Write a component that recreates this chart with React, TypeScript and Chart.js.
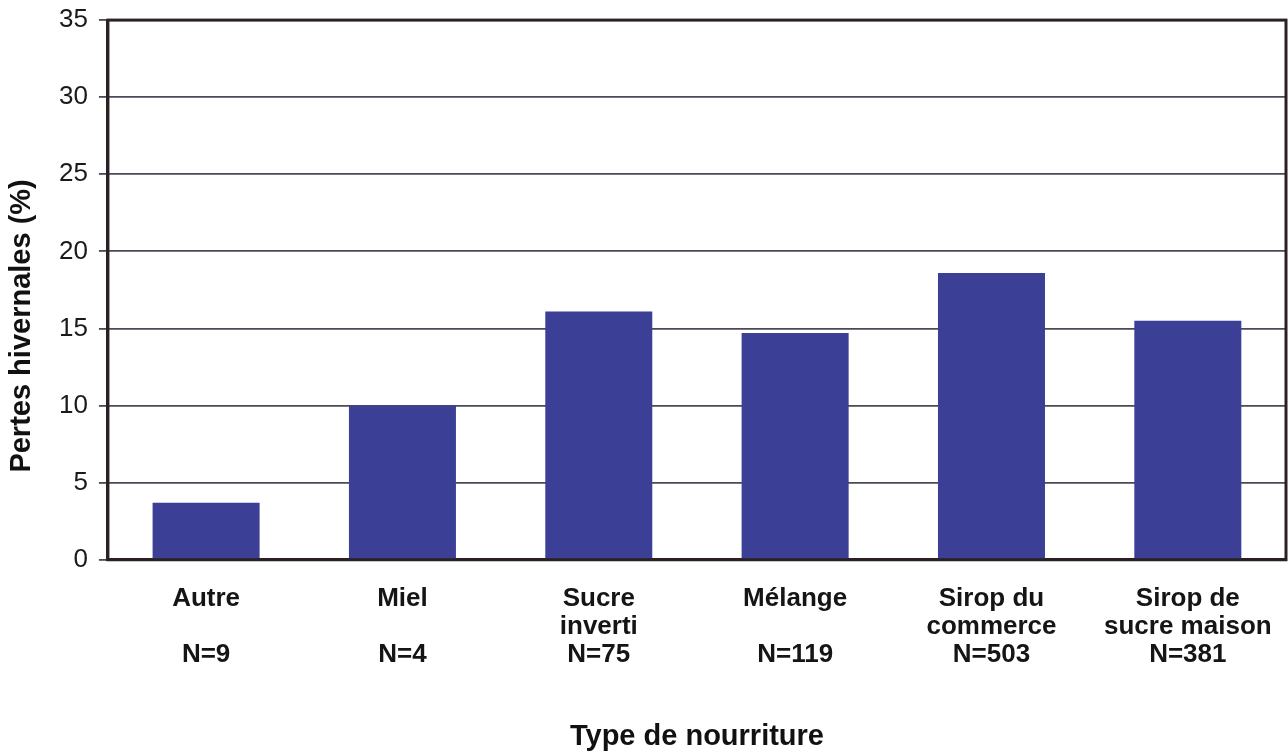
import React, { useEffect, useRef } from "react";
import { Chart, registerables } from "chart.js";

Chart.register(...registerables);

const categories = [
  "Autre",
  "Miel",
  "Sucre inverti",
  "Mélange",
  "Sirop du commerce",
  "Sirop de sucre maison",
];
const tickLabelLines: string[][] = [
  ["Autre", "", "N=9"],
  ["Miel", "", "N=4"],
  ["Sucre", "inverti", "N=75"],
  ["Mélange", "", "N=119"],
  ["Sirop du", "commerce", "N=503"],
  ["Sirop de", "sucre maison", "N=381"],
];
const winterLosses = [3.7, 10.0, 16.1, 14.7, 18.6, 15.5];
const yMin = 0;
const yMax = 35;
const yStep = 5;
const yTitle = "Pertes hivernales (%)";
const xTitle = "Type de nourriture";

const FONT = "'Liberation Sans', Arial, Helvetica, sans-serif";
const TITLE_FONT = { family: FONT, size: 29, weight: "bold" as const, lineHeight: 1.0 };

const framePlugin = {
  id: "frame",
  afterDraw(chart: any) {
    const { ctx, chartArea: a } = chart;
    ctx.save();
    ctx.strokeStyle = "#2b2023";
    ctx.lineWidth = 3;
    ctx.strokeRect(a.left, a.top, a.right - a.left, a.bottom - a.top);
    ctx.restore();
  },
};

// Draws the y-axis title (space reserved by the scale's own title) slightly
// below the plot centre, as in the original figure.
const yTitlePlugin = {
  id: "yTitleShift",
  afterDraw(chart: any) {
    const { ctx, chartArea: a } = chart;
    const scale = chart.scales.y;
    const t = scale.options.title;
    ctx.save();
    ctx.font = `bold ${TITLE_FONT.size}px ${FONT}`;
    ctx.fillStyle = "#111";
    ctx.textAlign = "center";
    ctx.textBaseline = "middle";
    const x = scale.left + t.padding.top + TITLE_FONT.size / 2;
    const y = (a.top + a.bottom) / 2 + 36;
    ctx.translate(x, y);
    ctx.rotate(-Math.PI / 2);
    ctx.fillText(t.text, 0, 0);
    ctx.restore();
  },
};

export default function App() {
  const ref = useRef<HTMLCanvasElement | null>(null);

  useEffect(() => {
    if (!ref.current) return;
    const chart = new Chart(ref.current, {
      type: "bar",
      data: {
        labels: categories,
        datasets: [
          {
            data: winterLosses,
            backgroundColor: "#3b3f96",
            borderWidth: 0,
            barPercentage: 0.545,
            categoryPercentage: 1.0,
          },
        ],
      },
      options: {
        responsive: false,
        animation: false,
        devicePixelRatio: 1,
        layout: { padding: { top: 20, right: 2, bottom: 2, left: 0 } },
        plugins: {
          legend: { display: false },
          tooltip: { enabled: false },
          title: { display: false },
        },
        scales: {
          x: {
            grid: { display: false, drawTicks: true, tickLength: 25 },
            border: { display: true, color: "#2b2023", width: 3 },
            ticks: {
              padding: 0,
              color: "#151515",
              maxRotation: 0,
              autoSkip: false,
              font: { family: FONT, size: 26, weight: "bold", lineHeight: 1.08 },
              callback: (_v: any, i: number) => tickLabelLines[i],
            },
            title: {
              display: true,
              text: xTitle,
              color: "#111",
              font: TITLE_FONT,
              padding: { top: 53, bottom: 0 },
            },
          },
          y: {
            min: yMin,
            max: yMax,
            ticks: {
              stepSize: yStep,
              padding: 11,
              color: "#1a1a1a",
              font: { family: FONT, size: 26, lineHeight: 0.7 },
            },
            grid: {
              color: "#4a4a58",
              lineWidth: 1.8,
              drawTicks: true,
              tickLength: 9,
              tickColor: "#4a4a58",
            },
            border: { display: true, color: "#2b2023", width: 3 },
            title: {
              display: true,
              text: yTitle,
              color: "rgba(0,0,0,0)",
              font: TITLE_FONT,
              padding: { top: 7, bottom: 12 },
            },
          },
        },
      },
      plugins: [framePlugin, yTitlePlugin],
    });
    return () => chart.destroy();
  }, []);

  return (
    <div
      style={{
        position: "absolute",
        left: 0,
        top: 0,
        width: 1288,
        height: 753,
        background: "#ffffff",
      }}
    >
      <canvas ref={ref} width={1288} height={753} />
    </div>
  );
}
